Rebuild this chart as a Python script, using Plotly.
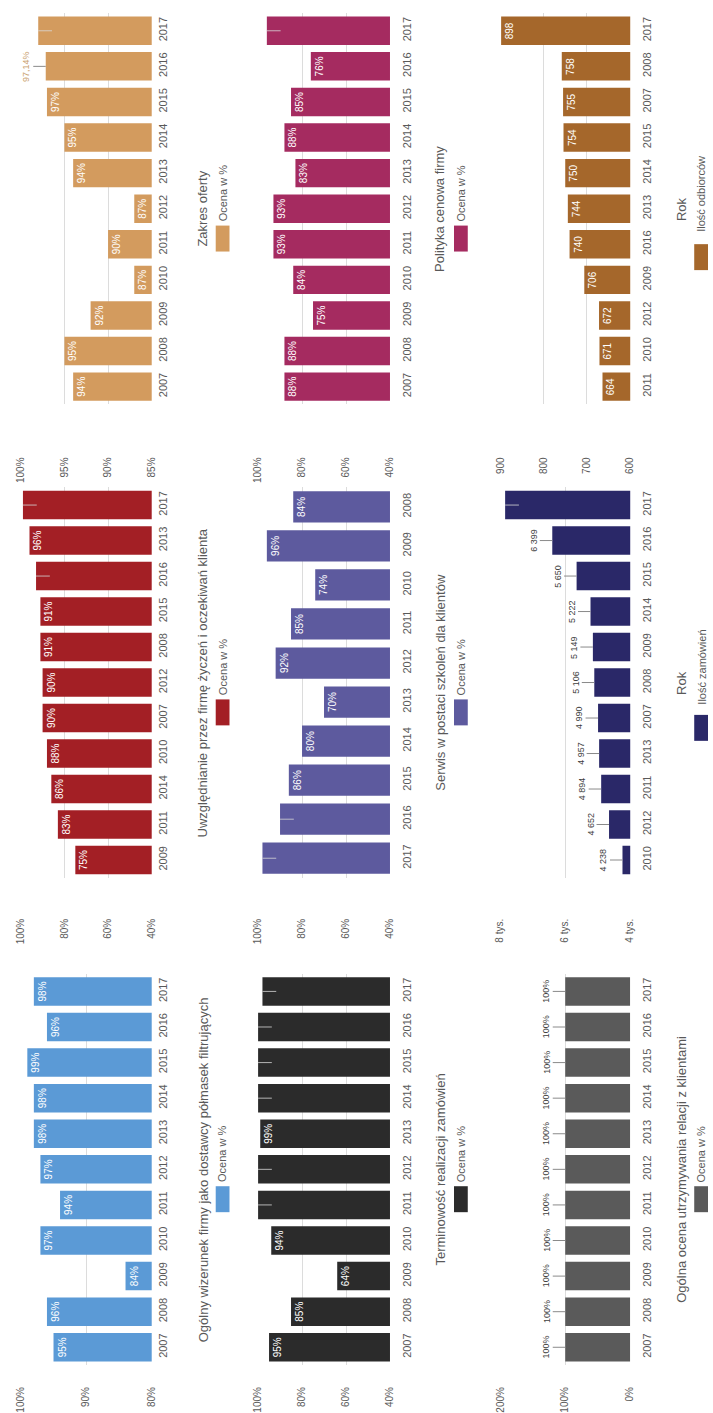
import plotly.graph_objects as go

W, H = 713, 1413
FONT = "Liberation Sans, Arial, sans-serif"
TXT = "#595959"
GRID = "#DCDCDC"

# ---------------- data ----------------
zakres_years = ["2007", "2008", "2009", "2010", "2011", "2012", "2013", "2014", "2015", "2016", "2017"]
zakres_vals = [94, 95, 92, 87, 90, 87, 94, 95, 97, 97.14, 98]
zakres_in = ["2007", "2008", "2009", "2010", "2011", "2012", "2013", "2014", "2015"]
zakres_out = ["2016"]

polityka_years = ["2007", "2008", "2009", "2010", "2011", "2012", "2013", "2014", "2015", "2016", "2017"]
polityka_vals = [88, 88, 75, 84, 93, 93, 83, 88, 85, 76, 96]
polityka_in = ["2007", "2008", "2009", "2010", "2011", "2012", "2013", "2014", "2015", "2016"]

odbiorcy_years = ["2011", "2010", "2012", "2009", "2016", "2013", "2014", "2015", "2007", "2008", "2017"]
odbiorcy_vals = [664, 671, 672, 706, 740, 744, 750, 754, 755, 758, 898]
odbiorcy_in = odbiorcy_years

uwzgl_years = ["2009", "2011", "2014", "2010", "2007", "2012", "2008", "2015", "2016", "2013", "2017"]
uwzgl_vals = [75, 83, 86, 88, 90, 90, 91, 91, 93, 96, 99]
uwzgl_in = ["2009", "2011", "2014", "2010", "2007", "2012", "2008", "2015", "2013"]

serwis_years = ["2017", "2016", "2015", "2014", "2013", "2012", "2011", "2010", "2009", "2008"]
serwis_vals = [98, 90, 86, 80, 70, 92, 85, 74, 96, 84]
serwis_in = ["2015", "2014", "2013", "2012", "2011", "2010", "2009", "2008"]

zamow_years = ["2010", "2012", "2011", "2013", "2007", "2008", "2009", "2014", "2015", "2016", "2017"]
zamow_vals = [4238, 4652, 4894, 4957, 4990, 5106, 5149, 5222, 5650, 6399, 7850]
zamow_out = ["2010", "2012", "2011", "2013", "2007", "2008", "2009", "2014", "2015", "2016"]

wizer_years = ["2007", "2008", "2009", "2010", "2011", "2012", "2013", "2014", "2015", "2016", "2017"]
wizer_vals = [95, 96, 84, 97, 94, 97, 98, 98, 99, 96, 98]
wizer_in = wizer_years

termin_years = ["2007", "2008", "2009", "2010", "2011", "2012", "2013", "2014", "2015", "2016", "2017"]
termin_vals = [95, 85, 64, 94, 100, 100, 99, 100, 100, 100, 98]
termin_in = ["2007", "2008", "2009", "2010", "2013"]

ocena_years = ["2007", "2008", "2009", "2010", "2011", "2012", "2013", "2014", "2015", "2016", "2017"]
ocena_vals = [100, 100, 100, 100, 100, 100, 100, 100, 100, 100, 100]
ocena_out = ocena_years


def pct(v):
    s = f"{v:g}".replace(".", ",")
    return s + "%"


def thousands(v):
    return f"{v:,}".replace(",", " ")


# ---------------- panel layout (pixel boxes on the page) ----------------
# value axis runs right -> left (base on the right), categories bottom -> top
COLS = {1: (15, 148), 2: (256, 390), 3: (502, 634)}
ROWS = {1: (13, 405), 2: (488, 879), 3: (975, 1367)}
TITLE_X = {1: 200, 2: 441, 3: 686}
LEG_X = {1: 220, 2: 462, 3: 706}
YEAR_STANDOFF = {1: 3, 2: 9, 3: 9}
VAL_STANDOFF = {1: 50, 2: 38, 3: 19}
TICK_PX = 14  # length of the short leader stroke left on bars without a printed value

panels = [
    dict(col=1, row=1, years=zakres_years, vals=zakres_vals, lab_in=zakres_in, lab_out=zakres_out,
         fmt=pct, color="#D39B5E", out_color="#C9A06C", rng=[100, 85], tickvals=[85, 90, 95, 100],
         ticktext=["85%", "90%", "95%", "100%"], title="Zakres oferty", legend="Ocena w %"),
    dict(col=2, row=1, years=polityka_years, vals=polityka_vals, lab_in=polityka_in, lab_out=[],
         fmt=pct, color="#A52B60", rng=[100, 40], tickvals=[40, 60, 80, 100],
         ticktext=["40%", "60%", "80%", "100%"], title="Polityka cenowa firmy", legend="Ocena w %"),
    dict(col=3, row=1, years=odbiorcy_years, vals=odbiorcy_vals, lab_in=odbiorcy_in, lab_out=[],
         fmt=str, color="#A5672B", rng=[900, 600], tickvals=[600, 700, 800, 900],
         ticktext=["600", "700", "800", "900"], title="Rok", legend="Ilość odbiorców"),
    dict(col=1, row=2, years=uwzgl_years, vals=uwzgl_vals, lab_in=uwzgl_in, lab_out=[],
         fmt=pct, color="#A31F25", rng=[100, 40], tickvals=[40, 60, 80, 100],
         ticktext=["40%", "60%", "80%", "100%"],
         title="Uwzględnianie przez firmę życzeń i oczekiwań klienta", legend="Ocena w %"),
    dict(col=2, row=2, years=serwis_years, vals=serwis_vals, lab_in=serwis_in, lab_out=[],
         fmt=pct, color="#5D5A9E", rng=[100, 40], tickvals=[40, 60, 80, 100],
         ticktext=["40%", "60%", "80%", "100%"],
         title="Serwis w postaci szkoleń dla klientów", legend="Ocena w %"),
    dict(col=3, row=2, years=zamow_years, vals=zamow_vals, lab_in=[], lab_out=zamow_out,
         fmt=thousands, color="#2A2868", out_color="#404040", rng=[8000, 4000],
         tickvals=[4000, 6000, 8000], ticktext=["4 tys.", "6 tys.", "8 tys."],
         title="Rok", legend="Ilość zamówień"),
    dict(col=1, row=3, years=wizer_years, vals=wizer_vals, lab_in=wizer_in, lab_out=[],
         fmt=pct, color="#5B9AD6", rng=[100, 80], tickvals=[80, 90, 100],
         ticktext=["80%", "90%", "100%"],
         title="Ogólny wizerunek firmy jako dostawcy półmasek filtrujących", legend="Ocena w %"),
    dict(col=2, row=3, years=termin_years, vals=termin_vals, lab_in=termin_in, lab_out=[],
         fmt=pct, color="#2B2B2B", rng=[100, 40], tickvals=[40, 60, 80, 100],
         ticktext=["40%", "60%", "80%", "100%"],
         title="Terminowość realizacji zamówień", legend="Ocena w %"),
    dict(col=3, row=3, years=ocena_years, vals=ocena_vals, lab_in=[], lab_out=ocena_out,
         fmt=pct, color="#5A5A5A", out_color="#404040", rng=[200, 0], tickvals=[0, 100, 200],
         ticktext=["0%", "100%", "200%"],
         title="Ogólna ocena utrzymywania relacji z klientami", legend="Ocena w %"),
]

fig = go.Figure()
annotations = []
shapes = []
layout_axes = {}

for i, p in enumerate(panels, start=1):
    x0, x1 = COLS[p["col"]]
    y0, y1 = ROWS[p["row"]]
    xs = "" if i == 1 else str(i)
    n = len(p["years"])

    texts = [p["fmt"](v) if yr in p["lab_in"] else "" for yr, v in zip(p["years"], p["vals"])]

    # short pale stroke at the tip of bars whose value is not printed
    unit_per_px = (p["rng"][0] - p["rng"][1]) / (x1 - x0)
    stroke = [TICK_PX * unit_per_px if (yr not in p["lab_in"] and yr not in p["lab_out"]) else 0
              for yr in p["years"]]

    fig.add_trace(go.Bar(
        x=p["vals"], y=p["years"], orientation="h",
        xaxis="x" + xs, yaxis="y" + xs,
        marker=dict(color=p["color"], line=dict(width=0)),
        text=texts, textposition="inside", insidetextanchor="end", textangle=-90,
        textfont=dict(color="white", size=10, family=FONT),
        error_x=dict(type="data", symmetric=False, array=[0] * n, arrayminus=stroke,
                     color="rgba(215,215,215,0.8)", thickness=1, width=0),
        showlegend=False, hoverinfo="skip",
    ))

    layout_axes["xaxis" + xs] = dict(
        domain=[x0 / W, x1 / W], anchor="y" + xs, range=p["rng"],
        tickmode="array", tickvals=p["tickvals"], ticktext=p["ticktext"],
        tickangle=-90, ticks="", showline=False, zeroline=False,
        showgrid=True, gridcolor=GRID, gridwidth=1,
        tickfont=dict(size=10, color=TXT, family=FONT),
        ticklabelstandoff=VAL_STANDOFF[p["row"]], fixedrange=True,
    )
    layout_axes["yaxis" + xs] = dict(
        domain=[1 - y1 / H, 1 - y0 / H], anchor="x" + xs, side="right",
        type="category", categoryorder="array", categoryarray=p["years"],
        range=[-0.5, n - 0.5],
        tickangle=-90, ticks="", showline=False, showgrid=False, zeroline=False,
        tickfont=dict(size=11, color=TXT, family=FONT),
        ticklabelstandoff=YEAR_STANDOFF[p["col"]], fixedrange=True,
    )

    # values printed beside the bar with a short leader line
    for k, (yr, v) in enumerate(zip(p["years"], p["vals"])):
        if yr in p["lab_out"]:
            annotations.append(dict(
                x=v, y=k, xref="x" + xs, yref="y" + xs,
                text=p["fmt"](v), textangle=-90, showarrow=True, arrowhead=0,
                arrowwidth=1, arrowcolor="#8A8A8A", ax=-19, ay=0, standoff=0,
                font=dict(size=9, color=p.get("out_color", TXT), family=FONT),
            ))

    # panel caption beside the category labels
    cy = (y0 + y1) / 2
    annotations.append(dict(
        x=TITLE_X[p["col"]] / W, y=1 - cy / H, xref="paper", yref="paper",
        text=p["title"], textangle=-90, showarrow=False,
        xanchor="center", yanchor="middle",
        font=dict(size=13, color=TXT, family=FONT),
    ))

    # legend: coloured key followed by the series name
    leg_len = 6.2 * len(p["legend"])
    key_len, gap = 26, 4
    total = leg_len + gap + key_len
    top = cy - total / 2
    lx = LEG_X[p["col"]]
    annotations.append(dict(
        x=lx / W, y=1 - (top + leg_len / 2) / H, xref="paper", yref="paper",
        text=p["legend"], textangle=-90, showarrow=False,
        xanchor="center", yanchor="middle",
        font=dict(size=11, color=TXT, family=FONT),
    ))
    shapes.append(dict(
        type="rect", xref="paper", yref="paper",
        x0=(lx - 7) / W, x1=(lx + 7) / W,
        y0=1 - (top + leg_len + gap + key_len) / H, y1=1 - (top + leg_len + gap) / H,
        fillcolor=p["color"], line=dict(width=0),
    ))

fig.update_layout(
    width=W, height=H,
    margin=dict(l=0, r=0, t=0, b=0),
    paper_bgcolor="white", plot_bgcolor="white",
    bargap=0.2,
    font=dict(family=FONT, color=TXT),
    annotations=annotations, shapes=shapes,
    showlegend=False,
    **layout_axes,
)

fig.write_html("out.html", config={"displayModeBar": False})
